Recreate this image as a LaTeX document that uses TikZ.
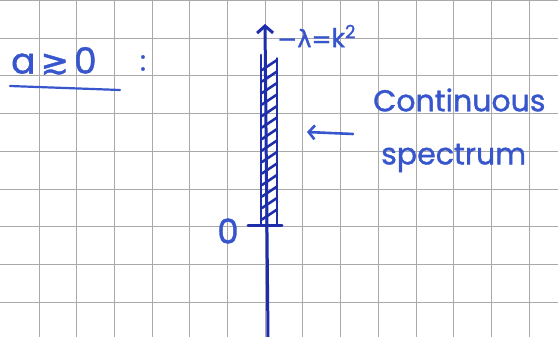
\documentclass[tikz,border=0pt]{standalone}
\usepackage{fontspec}
\setmainfont{Poppins}[FakeBold=1.2]
\newfontfamily\symfont{DejaVu Sans}[FakeBold=1.2]
\usetikzlibrary{arrows.meta}
\definecolor{ink}{RGB}{55,85,205}
\definecolor{darkink}{RGB}{30,45,170}
\definecolor{gridgray}{RGB}{170,170,170}
\tikzset{
  gridline/.style={draw=gridgray, line width=0.9pt},
  pen/.style={draw=ink, line width=2.2pt, line cap=round, line join=round},
  axispen/.style={draw=darkink, line width=3pt, line cap=round},
  hatchpen/.style={draw=darkink, line width=2.6pt, line cap=round},
  handtext/.style={text=ink, inner sep=0pt, anchor=center},
}
\begin{document}
\begin{tikzpicture}[x=1pt,y=-1pt]
\fill[white] (0,0) rectangle (558,337);
\useasboundingbox (0,0) rectangle (558,337);
% grid
\foreach \k in {0,...,13} {\draw[gridline] ({39+37.7*\k},0) -- ({39+37.7*\k},337);}
\foreach \k in {0,...,8} {\draw[gridline] (0,{0.5+37.7*\k}) -- (558,{0.5+37.7*\k});}
% heading
\node[handtext, font=\fontsize{36}{40}\selectfont, anchor=west] (cond) at (11,61) {a\kern5pt{\symfont\fontsize{34}{38}\selectfont ≳}\kern5pt0};
\coordinate (ulA) at (10,86);
\coordinate (ulB) at (120,90);
\draw[pen] (ulA) -- (ulB);
\node[handtext, font=\fontsize{28}{30}\selectfont] (colon) at (143,63) {:};
% axis
\coordinate (axbot) at (268,337);
\coordinate (axtop) at (265,24);
\draw[axispen, -{Straight Barb[length=7pt,width=16pt]}] (axbot) -- (axtop);
\node[handtext, font=\fontsize{26}{30}\selectfont, anchor=west] (axlabel) at (277,36) {{\symfont\fontsize{24}{28}\selectfont −λ=}k\textsuperscript{2}};
% hatched band
\coordinate (bandLT) at (261,55);
\coordinate (bandLB) at (261,225);
\coordinate (bandRT) at (277,58);
\coordinate (bandRB) at (277,225);
\draw[hatchpen, line width=2.8pt] (bandLT) -- (bandLB);
\draw[hatchpen, line width=1.4pt] (bandRT) -- (bandRB);
\foreach \k in {0,...,13} {
  \draw[hatchpen] (262,{70+11.5*\k}) .. controls (268,{66+11.5*\k}) .. (277,{60+11.5*\k});
}
% zero tick
\coordinate (tickL) at (248,225);
\coordinate (tickR) at (282,225);
\draw[axispen] (tickL) -- (tickR);
\node[handtext, font=\fontsize{34}{38}\selectfont] (zero) at (228,231) {0};
% pointer arrow
\coordinate (ptrA) at (353,134);
\coordinate (ptrB) at (307,132);
\draw[pen, line width=2.6pt, -{Straight Barb[length=6pt,width=14pt]}] (ptrA) -- (ptrB);
% label
\node[handtext, font=\fontsize{30}{34}\selectfont, anchor=west] (cont) at (373,100) {Continuous};
\node[handtext, font=\fontsize{30}{34}\selectfont, anchor=west] (spec) at (381,158) {spectrum};
\end{tikzpicture}
\end{document}
